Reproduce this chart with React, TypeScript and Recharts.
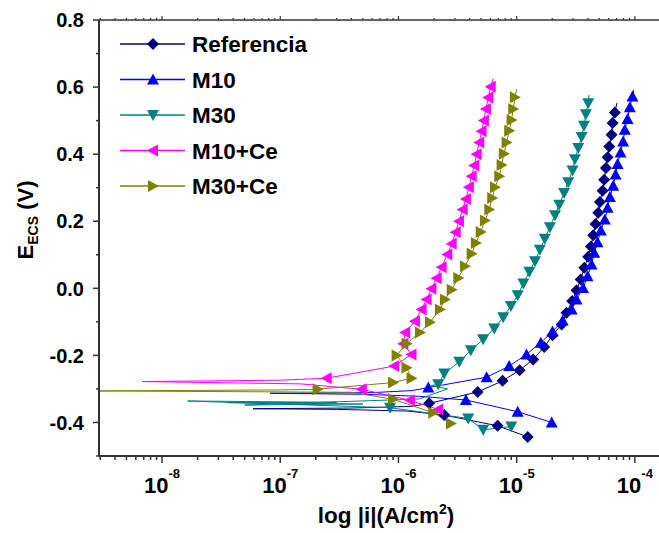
import React from "react";
import { ComposedChart, Line, Scatter, XAxis, YAxis } from "recharts";

const FONT = "'Liberation Sans', Arial, sans-serif";
const AXIS = "#333";

// [i (A/cm2), E (V)]
const refCathodic = [[1.24e-5, -0.443], [6.9e-6, -0.41], [2.44e-6, -0.378]];
const refTurn = [[1.2e-6, -0.366], [3e-7, -0.361], [5.9e-8, -0.359], [4e-7, -0.357], [1.3e-6, -0.352]];
const refAnodic = [
  [1.82e-6, -0.343], [4.68e-6, -0.309], [7.6e-6, -0.276], [1.06e-5, -0.244], [1.38e-5, -0.212],
  [1.71e-5, -0.175], [2.01e-5, -0.14], [2.4e-5, -0.108], [2.64e-5, -0.073], [2.95e-5, -0.038],
  [3.21e-5, -0.006], [3.48e-5, 0.026], [3.73e-5, 0.061], [4.03e-5, 0.094], [4.25e-5, 0.125],
  [4.44e-5, 0.158], [4.65e-5, 0.192], [4.9e-5, 0.225], [5.06e-5, 0.257], [5.33e-5, 0.291],
  [5.5e-5, 0.324], [5.69e-5, 0.359], [5.88e-5, 0.391], [6.07e-5, 0.423], [6.35e-5, 0.458],
  [6.48e-5, 0.493], [6.77e-5, 0.524],
];
const refTip = [[7.05e-5, 0.553]];

const m10Cathodic = [[1.98e-5, -0.4], [1.02e-5, -0.368], [3.72e-6, -0.333]];
const m10Turn = [[1.5e-6, -0.322], [5e-7, -0.316], [8.2e-8, -0.313], [6e-7, -0.311], [1.3e-6, -0.305]];
const m10Anodic = [
  [1.79e-6, -0.296], [5.57e-6, -0.265], [8.65e-6, -0.232], [1.21e-5, -0.197], [1.6e-5, -0.162],
  [2.01e-5, -0.129], [2.45e-5, -0.096], [2.92e-5, -0.063], [3.21e-5, -0.033], [3.65e-5, 0.001],
  [3.98e-5, 0.036], [4.3e-5, 0.071], [4.53e-5, 0.106], [4.83e-5, 0.137], [5.15e-5, 0.172],
  [5.57e-5, 0.205], [5.88e-5, 0.24], [6.15e-5, 0.272], [6.56e-5, 0.306], [6.87e-5, 0.339],
  [7.14e-5, 0.371], [7.57e-5, 0.405], [7.96e-5, 0.438], [8.22e-5, 0.473], [8.67e-5, 0.505],
  [9.07e-5, 0.54], [9.55e-5, 0.572],
];
const m10Tip = [[9.8e-5, 0.592]];

const m30Cathodic = [[9e-6, -0.412], [5.21e-6, -0.422], [3.89e-6, -0.388], [8.5e-7, -0.356]];
const m30Turn = [[1.65e-8, -0.336], [3e-7, -0.34], [3.6e-8, -0.341], [5e-7, -0.345], [5e-8, -0.348], [1.5e-6, -0.33], [2.6e-6, -0.3], [1.9e-6, -0.29]];
const m30Anodic = [
  [2.17e-6, -0.286], [2.44e-6, -0.254], [3.27e-6, -0.219], [4.1e-6, -0.185], [5.21e-6, -0.152],
  [6.46e-6, -0.12], [7.7e-6, -0.086], [8.93e-6, -0.053], [1.02e-5, -0.021], [1.14e-5, 0.014],
  [1.28e-5, 0.049], [1.43e-5, 0.081], [1.57e-5, 0.115], [1.73e-5, 0.148], [1.91e-5, 0.182],
  [2.11e-5, 0.218], [2.29e-5, 0.249], [2.52e-5, 0.284], [2.73e-5, 0.316], [2.97e-5, 0.351],
  [3.11e-5, 0.385], [3.32e-5, 0.418], [3.54e-5, 0.451], [3.71e-5, 0.485], [3.85e-5, 0.519],
  [4.03e-5, 0.552],
];
const m30Tip = [[4.1e-5, 0.577]];

const m10ceCathodic = [[2.17e-6, -0.361], [1.25e-6, -0.334], [4.89e-7, -0.301]];
const m10ceTurn = [[1.5e-7, -0.285], [6.8e-9, -0.278], [1e-7, -0.274]];
const m10ceAnodic = [
  [2.47e-7, -0.268], [9.2e-7, -0.232], [1.29e-6, -0.197], [1.1e-6, -0.165], [1.14e-6, -0.132],
  [1.38e-6, -0.098], [1.57e-6, -0.063], [1.73e-6, -0.033], [1.9e-6, -0.001], [2.1e-6, 0.03],
  [2.32e-6, 0.063], [2.59e-6, 0.101], [2.82e-6, 0.133], [3.05e-6, 0.167], [3.25e-6, 0.2],
  [3.49e-6, 0.235], [3.72e-6, 0.266], [3.94e-6, 0.301], [4.16e-6, 0.334], [4.38e-6, 0.366],
  [4.58e-6, 0.4], [4.82e-6, 0.435], [5.05e-6, 0.468], [5.28e-6, 0.5], [5.49e-6, 0.535],
  [5.75e-6, 0.569], [6.03e-6, 0.601],
];
const m10ceTip = [[6.34e-6, 0.626]];

const m30ceCathodic = [[2.78e-6, -0.403], [1.97e-6, -0.371], [9e-7, -0.331]];
const m30ceTurn = [[4e-7, -0.31], [2.95e-9, -0.306], [1e-7, -0.303]];
const m30ceAnodic = [
  [2.07e-7, -0.301], [9e-7, -0.281], [1.29e-6, -0.268], [1.17e-6, -0.237], [9.65e-7, -0.2],
  [1.17e-6, -0.165], [1.52e-6, -0.132], [1.85e-6, -0.101], [2.24e-6, -0.063], [2.47e-6, -0.033],
  [2.82e-6, -0.004], [3.21e-6, 0.031], [3.65e-6, 0.066], [4.16e-6, 0.103], [4.52e-6, 0.135],
  [4.96e-6, 0.168], [5.39e-6, 0.202], [5.86e-6, 0.235], [6.21e-6, 0.269], [6.55e-6, 0.301],
  [7.12e-6, 0.334], [7.46e-6, 0.368], [7.8e-6, 0.401], [8.22e-6, 0.435], [8.65e-6, 0.47],
  [9.06e-6, 0.502], [9.35e-6, 0.535], [9.66e-6, 0.57],
];
const m30ceTip = [[1.0e-5, 0.594]];

const xMajor = [1e-8, 1e-7, 1e-6, 1e-5, 1e-4];
const xDomain = [2.93e-9, 1.6e-4];
const yTicks = [-0.5, -0.4, -0.3, -0.2, -0.1, 0, 0.1, 0.2, 0.3, 0.4, 0.5, 0.6, 0.7, 0.8];

const xTicks: number[] = [];
[1e-9, ...xMajor].forEach((d) => {
  for (let k = 1; k <= 9; k++) {
    const v = +(d * k).toPrecision(3);
    if (v >= xDomain[0] && v <= xDomain[1]) xTicks.push(v);
  }
});

const toPts = (...parts: number[][][]) => parts.flat().map(([x, y]) => ({ x, y }));

type Shape = "diamond" | "up" | "down" | "left" | "right";
const SERIES: { name: string; color: string; shape: Shape; line: { x: number; y: number }[]; marks: { x: number; y: number }[] }[] = [
  { name: "Referencia", color: "#000080", shape: "diamond", line: toPts(refCathodic, refTurn, refAnodic, refTip), marks: toPts(refCathodic, refAnodic) },
  { name: "M10", color: "#0000ff", shape: "up", line: toPts(m10Cathodic, m10Turn, m10Anodic, m10Tip), marks: toPts(m10Cathodic, m10Anodic) },
  { name: "M30", color: "#008080", shape: "down", line: toPts(m30Cathodic, m30Turn, m30Anodic, m30Tip), marks: toPts(m30Cathodic, m30Anodic) },
  { name: "M10+Ce", color: "#ff00ff", shape: "left", line: toPts(m10ceCathodic, m10ceTurn, m10ceAnodic, m10ceTip), marks: toPts(m10ceCathodic, m10ceAnodic) },
  { name: "M30+Ce", color: "#808000", shape: "right", line: toPts(m30ceCathodic, m30ceTurn, m30ceAnodic, m30ceTip), marks: toPts(m30ceCathodic, m30ceAnodic) },
];

function marker(shape: Shape, cx: number, cy: number, color: string) {
  let p = "";
  if (shape === "diamond") p = `${cx},${cy - 6} ${cx + 6},${cy} ${cx},${cy + 6} ${cx - 6},${cy}`;
  if (shape === "up") p = `${cx},${cy - 6} ${cx + 6},${cy + 5} ${cx - 6},${cy + 5}`;
  if (shape === "down") p = `${cx},${cy + 6} ${cx + 6},${cy - 5} ${cx - 6},${cy - 5}`;
  if (shape === "left") p = `${cx - 6},${cy} ${cx + 5},${cy - 6} ${cx + 5},${cy + 6}`;
  if (shape === "right") p = `${cx + 6},${cy} ${cx - 5},${cy - 6} ${cx - 5},${cy + 6}`;
  return <polygon points={p} fill={color} />;
}

const XTick = (props: any) => {
  const { x, y, payload } = props;
  const lg = Math.log10(payload.value);
  const major = Math.abs(lg - Math.round(lg)) < 1e-6;
  return (
    <g>
      <line x1={x} x2={x} y1={y} y2={y + (major ? 7 : 4)} stroke={AXIS} strokeWidth={1.5} />
      {major && (
        <text x={x} y={y + 37} textAnchor="middle" fontSize={22} fontWeight="bold" fontFamily={FONT} fill="#000">
          10<tspan dy={-15} fontSize={13}>{Math.round(lg)}</tspan>
        </text>
      )}
    </g>
  );
};

const TopTick = (props: any) => {
  const { x, y, payload } = props;
  const lg = Math.log10(payload.value);
  const major = Math.abs(lg - Math.round(lg)) < 1e-6;
  return <line x1={x} x2={x} y1={y} y2={y - (major ? 4 : 2)} stroke={AXIS} strokeWidth={1.2} />;
};

const YTick = (props: any) => {
  const { x, y, payload } = props;
  const major = Math.round(payload.value * 10) % 2 === 0;
  return (
    <g>
      <line x1={x - (major ? 6 : 3)} x2={x} y1={y} y2={y} stroke={AXIS} strokeWidth={1.5} />
      {major && (
        <text x={x - 15} y={y} dy="0.36em" textAnchor="end" fontSize={20} fontWeight="bold" fontFamily={FONT} fill="#000">
          {payload.value.toFixed(1)}
        </text>
      )}
    </g>
  );
};

const XTitle = () => (
  <text x={386} y={523} textAnchor="middle" fontSize={22.5} fontWeight="bold" fontFamily={FONT} fill="#000">
    log |i|(A/cm<tspan dy={-9} fontSize={14}>2</tspan><tspan dy={9}>)</tspan>
  </text>
);

const YTitle = () => (
  <text transform="translate(33,220) rotate(-90)" textAnchor="middle" fontSize={22} fontWeight="bold" fontFamily={FONT} fill="#000">
    E<tspan dy={5} fontSize={14}>ECS</tspan><tspan dy={-5}> (V)</tspan>
  </text>
);

function LegendBox() {
  return (
    <svg width={360} height={210} style={{ position: "absolute", left: 0, top: 0, pointerEvents: "none" }}>
      {SERIES.map((s, i) => {
        const cy = 44 + i * 35.5;
        return (
          <g key={s.name}>
            <line x1={120} x2={185} y1={cy} y2={cy} stroke={s.color} strokeWidth={1.4} />
            {marker(s.shape, 153, cy, s.color)}
            <text x={192} y={cy} dy="0.36em" fontSize={22.5} fontWeight="bold" fontFamily={FONT} fill="#000">
              {s.name}
            </text>
          </g>
        );
      })}
    </svg>
  );
}

export default function App() {
  return (
    <div style={{ position: "absolute", left: 0, top: 0, width: 659, height: 533, background: "#fff" }}>
      <ComposedChart width={659} height={533} margin={{ top: 16, right: 0, bottom: 0, left: 0 }}>
        <XAxis
          xAxisId="top" orientation="top" dataKey="x" type="number" scale="log" domain={xDomain}
          allowDataOverflow ticks={xTicks} interval={0} height={4} tickSize={0} tickMargin={0}
          tickLine={false} tick={<TopTick />} axisLine={{ stroke: AXIS, strokeWidth: 1.5 }}
        />
        <XAxis
          dataKey="x" type="number" scale="log" domain={xDomain} allowDataOverflow ticks={xTicks}
          interval={0} height={77} tickSize={0} tickMargin={0} tickLine={false} tick={<XTick />}
          axisLine={{ stroke: AXIS, strokeWidth: 2 }} label={{ content: <XTitle /> }}
        />
        <YAxis
          dataKey="y" type="number" domain={[-0.5, 0.8]} allowDataOverflow ticks={yTicks} interval={0}
          width={99} tickSize={0} tickMargin={0} tickLine={false} tick={<YTick />}
          axisLine={{ stroke: AXIS, strokeWidth: 2 }} label={{ content: <YTitle /> }}
        />
        {SERIES.map((s) => (
          <Line key={s.name + "-l"} data={s.line} dataKey="y" type="linear" stroke={s.color} strokeWidth={1}
            dot={false} activeDot={false} isAnimationActive={false} />
        ))}
        {SERIES.map((s) => (
          <Scatter key={s.name + "-m"} data={s.marks} dataKey="y" isAnimationActive={false}
            shape={(p: any) => marker(s.shape, p.cx, p.cy, s.color)} />
        ))}
      </ComposedChart>
      <LegendBox />
    </div>
  );
}
